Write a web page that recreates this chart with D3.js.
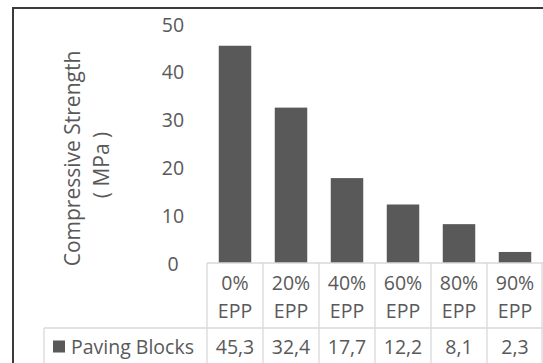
<!DOCTYPE html>
<html><head><meta charset="utf-8">
<script src="https://cdn.jsdelivr.net/npm/d3@7"></script>
<style>html,body{margin:0;padding:0;background:#fff;}svg{display:block;}</style>
</head><body>
<script>
const categoriesTop = ["0%","20%","40%","60%","80%","90%"];
const categoriesBottom = ["EPP","EPP","EPP","EPP","EPP","EPP"];
const seriesName = "Paving Blocks";
const values = [45.3, 32.4, 17.7, 12.2, 8.1, 2.3];
const valueLabels = ["45,3","32,4","17,7","12,2","8,1","2,3"];
const yTicks = [0,10,20,30,40,50];

const W = 543, H = 363;
const txt = "#595959", grid = "#d9d9d9";
const font = "'Open Sans', sans-serif";
const fs = 19.5;

const svg = d3.select("body").append("svg").attr("width", W).attr("height", H);
svg.append("rect").attr("width", W).attr("height", H).attr("fill", "#fff");

const x = d3.scaleBand().domain(d3.range(values.length)).range([207, 543]).paddingInner(0.42).paddingOuter(0.21);
const xc = d3.scaleBand().domain(d3.range(values.length)).range([207, 543]);
const y = d3.scaleLinear().domain([0, 50]).range([263, 23.2]);

// bars
svg.append("g").selectAll("rect").data(values).join("rect")
  .attr("x", (d,i) => x(i)).attr("width", x.bandwidth())
  .attr("y", d => y(d)).attr("height", d => y(0) - y(d))
  .attr("fill", "#595959");

// y tick labels
svg.append("g").selectAll("text").data(yTicks).join("text")
  .attr("x", 173).attr("y", d => y(d) + 1.5).attr("dy", "0.35em")
  .attr("text-anchor", "middle").attr("fill", txt)
  .style("font-family", font).style("font-size", fs + "px").text(d => d);

// y title
const tg = svg.append("g").style("font-family", font).style("font-size", "21px").attr("fill", txt);
tg.append("text").attr("transform", "translate(80,158.5) rotate(-90)").attr("text-anchor", "middle").text("Compressive Strength");
tg.append("text").attr("transform", "translate(109,165) rotate(-90)").attr("text-anchor", "middle").text("( MPa )");

// data table
const rowTop = 263, rowMid = 328, rowBot = 380;
const tbl = svg.append("g").attr("stroke", grid).attr("stroke-width", 1.3).attr("fill", "none");
tbl.append("line").attr("x1", 207).attr("x2", 543).attr("y1", rowTop).attr("y2", rowTop);
tbl.append("line").attr("x1", 44).attr("x2", 543).attr("y1", rowMid).attr("y2", rowMid);
tbl.append("line").attr("x1", 44).attr("x2", 44).attr("y1", rowMid).attr("y2", rowBot);
d3.range(values.length + 1).forEach(i => {
  const xx = i < values.length ? xc(i) : 542;
  tbl.append("line").attr("x1", xx).attr("x2", xx).attr("y1", rowTop).attr("y2", rowBot);
});

const tt = svg.append("g").style("font-family", font).style("font-size", fs + "px").attr("fill", txt).attr("text-anchor", "middle");
categoriesTop.forEach((c,i) => tt.append("text").attr("x", xc(i) + xc.bandwidth()/2).attr("y", 283).attr("dy", "0.35em").text(c));
categoriesBottom.forEach((c,i) => tt.append("text").attr("x", xc(i) + xc.bandwidth()/2).attr("y", 311).attr("dy", "0.35em").text(c));
valueLabels.forEach((c,i) => tt.append("text").attr("x", xc(i) + xc.bandwidth()/2).attr("y", 347).attr("dy", "0.35em").text(c));

// legend key
svg.append("rect").attr("x", 53).attr("y", 340.5).attr("width", 12).attr("height", 12).attr("fill", "#595959");
svg.append("text").attr("x", 71).attr("y", 347).attr("dy", "0.35em").attr("fill", txt)
  .style("font-family", font).style("font-size", fs + "px").text(seriesName);

// outer frame
svg.append("path").attr("d", `M13,${H+5} L13,8 L${W+5},8`).attr("fill", "none").attr("stroke", "#3a3a3a").attr("stroke-width", 2);
</script>
</body></html>
